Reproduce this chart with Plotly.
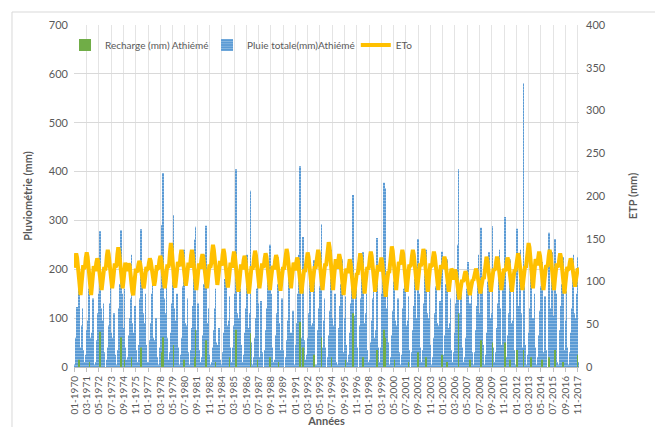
import plotly.graph_objects as go

years = list(range(1970, 2018))
months = [f"{m:02d}-{y}" for y in years for m in range(1, 13)]
tick_labels = months[::14]

# Monthly total rainfall (mm), one row per year (Jan..Dec)
rain_rows = [
    [5, 30, 60, 123, 110, 180, 95, 40, 85, 120, 35, 10],      # 1970
    [0, 25, 75, 95, 160, 210, 60, 20, 70, 140, 50, 5],        # 1971
    [10, 40, 55, 110, 150, 278, 120, 35, 95, 130, 30, 0],     # 1972
    [0, 15, 40, 85, 130, 190, 70, 15, 60, 110, 25, 5],        # 1973
    [5, 35, 90, 120, 170, 280, 150, 45, 80, 160, 40, 15],     # 1974
    [0, 20, 65, 100, 140, 230, 90, 30, 70, 125, 35, 0],       # 1975
    [10, 45, 80, 140, 282, 200, 110, 25, 90, 150, 45, 10],    # 1976
    [0, 10, 55, 90, 150, 175, 60, 20, 55, 100, 20, 0],        # 1977
    [5, 40, 95, 160, 290, 397, 140, 50, 110, 180, 60, 15],    # 1978
    [10, 30, 70, 130, 210, 311, 120, 40, 95, 150, 40, 5],     # 1979
    [0, 25, 60, 110, 165, 240, 90, 30, 85, 140, 30, 0],       # 1980
    [5, 35, 80, 125, 190, 261, 287, 45, 75, 130, 35, 10],     # 1981
    [0, 20, 65, 105, 170, 230, 289, 35, 90, 120, 25, 5],      # 1982
    [0, 10, 40, 75, 120, 160, 50, 10, 45, 80, 15, 0],         # 1983
    [5, 30, 70, 115, 180, 220, 85, 25, 95, 145, 40, 5],       # 1984
    [10, 40, 85, 150, 405, 240, 110, 40, 100, 160, 45, 10],   # 1985
    [0, 25, 70, 120, 190, 230, 80, 30, 110, 361, 50, 5],      # 1986
    [5, 20, 60, 100, 160, 210, 130, 20, 85, 135, 30, 0],      # 1987
    [0, 35, 75, 120, 175, 205, 100, 250, 95, 150, 40, 10],    # 1988
    [5, 15, 65, 110, 170, 225, 90, 35, 80, 140, 35, 0],       # 1989
    [0, 20, 55, 95, 145, 195, 70, 25, 70, 115, 25, 5],        # 1990
    [10, 45, 90, 150, 230, 411, 180, 60, 120, 266, 55, 15],   # 1991
    [0, 25, 60, 110, 175, 210, 85, 25, 90, 219, 35, 5],       # 1992
    [5, 30, 75, 120, 165, 230, 292, 40, 95, 140, 40, 0],      # 1993
    [0, 20, 65, 115, 180, 240, 100, 35, 85, 150, 30, 10],     # 1994
    [5, 35, 80, 125, 170, 220, 95, 30, 100, 145, 45, 5],      # 1995
    [10, 25, 70, 130, 200, 250, 352, 45, 105, 165, 40, 0],    # 1996
    [0, 30, 85, 140, 190, 235, 90, 30, 110, 150, 35, 10],     # 1997
    [5, 15, 50, 95, 140, 180, 60, 20, 75, 264, 40, 0],        # 1998
    [10, 40, 85, 150, 210, 377, 180, 366, 120, 170, 50, 5],   # 1999
    [0, 20, 65, 115, 175, 230, 95, 30, 85, 140, 30, 5],       # 2000
    [5, 25, 70, 120, 160, 215, 85, 25, 95, 145, 35, 0],       # 2001
    [0, 30, 75, 125, 180, 225, 100, 40, 262, 150, 40, 10],    # 2002
    [5, 35, 80, 130, 190, 240, 110, 35, 100, 160, 45, 5],     # 2003
    [0, 20, 60, 110, 165, 210, 90, 30, 85, 135, 45, 236],     # 2004
    [0, 25, 65, 115, 170, 220, 80, 25, 90, 140, 35, 5],       # 2005
    [10, 30, 70, 130, 200, 250, 405, 45, 110, 165, 40, 10],   # 2006
    [0, 20, 60, 105, 160, 215, 95, 130, 95, 150, 30, 0],      # 2007
    [5, 30, 75, 125, 185, 230, 110, 264, 285, 160, 45, 5],    # 2008
    [0, 25, 70, 120, 175, 235, 100, 35, 110, 288, 40, 10],    # 2009
    [5, 30, 80, 130, 190, 240, 120, 45, 115, 170, 150, 307],  # 2010
    [0, 20, 65, 110, 170, 220, 90, 30, 95, 155, 35, 5],       # 2011
    [10, 283, 75, 125, 180, 240, 110, 40, 581, 165, 45, 5],   # 2012
    [0, 25, 70, 120, 175, 230, 100, 35, 100, 150, 40, 5],     # 2013
    [5, 20, 65, 115, 165, 215, 95, 30, 90, 145, 35, 0],       # 2014
    [0, 275, 70, 120, 175, 235, 105, 40, 262, 150, 40, 10],   # 2015
    [5, 25, 75, 125, 170, 225, 100, 35, 95, 155, 40, 5],      # 2016
    [0, 30, 70, 120, 180, 230, 110, 40, 100, 150, 225, 10],   # 2017
]

# Monthly recharge (mm)
recharge_rows = [
    [0, 0, 0, 0, 0, 15, 0, 0, 0, 0, 0, 0],     # 1970
    [0, 0, 0, 0, 0, 10, 0, 0, 0, 0, 0, 0],     # 1971
    [0, 0, 0, 0, 0, 72, 0, 0, 0, 0, 0, 0],     # 1972
    [0, 0, 0, 0, 0, 0, 0, 0, 0, 0, 0, 0],      # 1973
    [0, 0, 0, 0, 0, 61, 0, 0, 0, 15, 0, 0],    # 1974
    [0, 0, 0, 0, 0, 20, 0, 0, 0, 0, 0, 0],     # 1975
    [0, 0, 0, 0, 40, 0, 0, 0, 0, 0, 0, 0],     # 1976
    [0, 0, 0, 0, 0, 0, 0, 0, 0, 0, 0, 0],      # 1977
    [0, 0, 0, 0, 30, 61, 0, 0, 0, 0, 0, 0],    # 1978
    [0, 0, 0, 0, 0, 45, 0, 0, 0, 0, 0, 0],     # 1979
    [0, 0, 0, 0, 0, 15, 0, 0, 0, 0, 0, 0],     # 1980
    [0, 0, 0, 0, 0, 20, 76, 0, 0, 0, 0, 0],    # 1981
    [0, 0, 0, 0, 0, 0, 55, 0, 0, 0, 0, 0],     # 1982
    [0, 0, 0, 0, 0, 10, 0, 0, 0, 0, 0, 0],     # 1983
    [0, 0, 0, 0, 0, 0, 0, 0, 0, 20, 0, 0],     # 1984
    [0, 0, 0, 0, 76, 0, 0, 0, 0, 0, 0, 0],     # 1985
    [0, 0, 0, 0, 0, 0, 0, 0, 0, 69, 0, 0],     # 1986
    [0, 0, 0, 0, 0, 15, 0, 0, 0, 0, 0, 0],     # 1987
    [0, 0, 0, 0, 0, 0, 0, 20, 0, 0, 0, 0],     # 1988
    [0, 0, 0, 0, 0, 10, 0, 0, 0, 0, 0, 0],     # 1989
    [0, 0, 0, 0, 0, 0, 0, 0, 0, 0, 0, 0],      # 1990
    [0, 0, 0, 0, 0, 92, 0, 0, 0, 40, 0, 0],    # 1991
    [0, 0, 0, 0, 0, 0, 0, 0, 0, 25, 0, 0],     # 1992
    [0, 0, 0, 0, 0, 0, 61, 0, 0, 0, 0, 0],     # 1993
    [0, 0, 0, 0, 0, 20, 0, 0, 0, 0, 0, 0],     # 1994
    [0, 0, 0, 0, 0, 0, 0, 0, 0, 15, 0, 0],     # 1995
    [0, 0, 0, 0, 0, 0, 110, 0, 0, 0, 0, 0],    # 1996
    [0, 0, 0, 0, 0, 20, 0, 0, 0, 0, 0, 0],     # 1997
    [0, 0, 0, 0, 0, 0, 0, 0, 0, 35, 0, 0],     # 1998
    [0, 0, 0, 0, 0, 76, 0, 60, 0, 0, 0, 0],    # 1999
    [0, 0, 0, 0, 0, 15, 0, 0, 0, 0, 0, 0],     # 2000
    [0, 0, 0, 0, 0, 0, 0, 0, 0, 10, 0, 0],     # 2001
    [0, 0, 0, 0, 0, 0, 0, 0, 30, 0, 0, 0],     # 2002
    [0, 0, 0, 0, 0, 20, 0, 0, 0, 0, 0, 0],     # 2003
    [0, 0, 0, 0, 0, 0, 0, 0, 0, 0, 0, 25],     # 2004
    [0, 0, 0, 0, 0, 10, 0, 0, 0, 0, 0, 0],     # 2005
    [0, 0, 0, 0, 0, 0, 110, 0, 0, 0, 0, 0],    # 2006
    [0, 0, 0, 0, 0, 0, 0, 15, 0, 0, 0, 0],     # 2007
    [0, 0, 0, 0, 0, 0, 0, 40, 55, 0, 0, 0],    # 2008
    [0, 0, 0, 0, 0, 0, 0, 0, 0, 50, 0, 0],     # 2009
    [0, 0, 0, 0, 0, 0, 0, 0, 0, 0, 0, 50],     # 2010
    [0, 0, 0, 0, 0, 15, 0, 0, 0, 0, 0, 0],     # 2011
    [0, 35, 0, 0, 0, 0, 0, 0, 35, 0, 0, 0],    # 2012
    [0, 0, 0, 0, 0, 20, 0, 0, 0, 0, 0, 0],     # 2013
    [0, 0, 0, 0, 0, 15, 0, 0, 0, 0, 0, 0],     # 2014
    [0, 20, 0, 0, 0, 0, 0, 0, 35, 0, 0, 0],    # 2015
    [0, 0, 0, 0, 0, 10, 0, 0, 0, 0, 0, 0],     # 2016
    [0, 0, 0, 0, 0, 0, 0, 0, 0, 0, 25, 0],     # 2017
]

# Monthly reference evapotranspiration ETo (mm), right axis
eto_rows = [
    [116, 127, 133, 128, 118, 100, 88, 84, 96, 113, 119, 115],   # 1970
    [117, 128, 134, 129, 117, 99, 87, 84, 95, 112, 118, 114],    # 1971
    [114, 122, 127, 124, 115, 101, 93, 90, 99, 112, 117, 113],   # 1972
    [118, 130, 137, 132, 121, 104, 95, 92, 100, 116, 121, 117],  # 1973
    [119, 132, 140, 134, 122, 104, 95, 92, 101, 117, 122, 118],  # 1974
    [112, 118, 121, 119, 112, 98, 88, 84, 94, 110, 115, 111],    # 1975
    [113, 120, 124, 121, 114, 101, 94, 92, 99, 112, 117, 114],   # 1976
    [115, 122, 127, 124, 116, 103, 97, 95, 101, 114, 119, 115],  # 1977
    [116, 125, 130, 126, 117, 102, 94, 92, 100, 115, 120, 116],  # 1978
    [120, 135, 145, 138, 124, 105, 96, 93, 102, 118, 123, 119],  # 1979
    [118, 130, 137, 132, 121, 105, 97, 95, 102, 117, 122, 118],  # 1980
    [118, 130, 137, 131, 120, 102, 93, 90, 99, 116, 121, 117],   # 1981
    [117, 127, 132, 128, 118, 102, 94, 92, 100, 115, 120, 116],  # 1982
    [121, 134, 143, 137, 125, 107, 98, 96, 104, 119, 124, 120],  # 1983
    [119, 131, 138, 133, 122, 105, 96, 93, 101, 117, 122, 118],  # 1984
    [118, 128, 135, 130, 119, 101, 91, 88, 98, 115, 120, 116],   # 1985
    [116, 125, 130, 126, 116, 99, 89, 86, 96, 113, 118, 114],    # 1986
    [118, 129, 136, 131, 120, 103, 94, 92, 100, 116, 121, 117],  # 1987
    [118, 127, 133, 129, 118, 103, 93, 90, 101, 114, 118, 116],  # 1988
    [116, 125, 131, 127, 116, 102, 92, 89, 100, 112, 117, 114],  # 1989
    [122, 131, 138, 133, 122, 106, 96, 92, 103, 117, 122, 119],  # 1990
    [113, 122, 128, 124, 113, 99, 89, 86, 97, 109, 114, 111],    # 1991
    [118, 127, 134, 129, 118, 102, 91, 88, 100, 113, 118, 115],  # 1992
    [120, 130, 137, 132, 120, 104, 94, 90, 102, 116, 121, 118],  # 1993
    [126, 138, 146, 140, 126, 107, 95, 90, 104, 121, 126, 123],  # 1994
    [115, 125, 132, 127, 115, 98, 88, 84, 96, 110, 115, 113],    # 1995
    [110, 119, 126, 121, 110, 94, 84, 80, 92, 105, 110, 108],    # 1996
    [116, 126, 133, 128, 116, 100, 90, 86, 98, 112, 117, 114],   # 1997
    [118, 128, 135, 130, 118, 102, 92, 88, 100, 114, 119, 116],  # 1998
    [112, 121, 128, 123, 112, 96, 86, 82, 94, 107, 112, 110],    # 1999
    [123, 133, 141, 136, 123, 105, 94, 90, 103, 118, 123, 121],  # 2000
    [120, 130, 137, 132, 120, 103, 92, 88, 100, 115, 120, 117],  # 2001
    [120, 130, 137, 132, 120, 104, 94, 90, 102, 116, 121, 118],  # 2002
    [121, 130, 138, 133, 121, 103, 92, 88, 100, 116, 121, 118],  # 2003
    [119, 128, 135, 130, 119, 103, 94, 90, 101, 115, 119, 117],  # 2004
    [115, 123, 129, 125, 115, 100, 91, 88, 98, 111, 115, 113],   # 2005
    [102, 109, 114, 111, 102, 90, 82, 79, 88, 98, 102, 100],     # 2006
    [102, 108, 112, 109, 102, 92, 86, 84, 91, 99, 102, 101],     # 2007
    [105, 111, 115, 112, 105, 95, 88, 86, 93, 102, 105, 103],    # 2008
    [115, 123, 129, 125, 115, 100, 91, 88, 98, 111, 115, 113],   # 2009
    [115, 123, 129, 125, 115, 102, 93, 90, 100, 111, 115, 113],  # 2010
    [114, 122, 128, 124, 114, 100, 91, 88, 98, 110, 114, 112],   # 2011
    [118, 127, 133, 129, 118, 103, 93, 90, 101, 114, 118, 116],  # 2012
    [126, 137, 145, 140, 126, 108, 96, 92, 105, 121, 126, 124],  # 2013
    [119, 128, 135, 130, 119, 103, 94, 90, 101, 115, 119, 117],  # 2014
    [120, 130, 137, 132, 120, 104, 94, 90, 102, 116, 121, 118],  # 2015
    [117, 126, 133, 128, 117, 100, 90, 86, 98, 112, 117, 114],   # 2016
    [115, 122, 127, 124, 115, 104, 97, 94, 102, 112, 115, 114],  # 2017
]

rain = [v for row in rain_rows for v in row]
recharge = [v for row in recharge_rows for v in row]
eto = [v for row in eto_rows for v in row]

FONT = "Lato"
GREY = "#595959"
LEG_FONT = dict(family=FONT, size=10, color=GREY)

fig = go.Figure()
fig.add_trace(go.Bar(x=months, y=rain, name="Pluie totale(mm)Athiémé",
                     marker=dict(color="#5B9BD5", line=dict(width=0),
                                 pattern=dict(shape="-", fgcolor="#DCE9F6", size=3, solidity=0.25)),
                     legend="legend2"))
fig.add_trace(go.Bar(x=months, y=recharge, name="Recharge (mm) Athiémé",
                     marker=dict(color="#70AD47", line=dict(width=0)),
                     legend="legend"))
fig.add_trace(go.Scatter(x=months, y=eto, name="ETo", mode="lines",
                         line=dict(color="#FFC000", width=4),
                         yaxis="y2", legend="legend3"))


def leg(xpos):
    return dict(orientation="h", x=xpos, y=0.9415, xanchor="left", yanchor="middle",
                font=LEG_FONT, bgcolor="rgba(0,0,0,0)", itemwidth=30)


# The page body has an 8px margin: the figure is drawn 8px right and down.
fig.update_layout(
    width=655, height=419,
    margin=dict(l=66, r=84, t=17, b=60, autoexpand=False),
    paper_bgcolor="white", plot_bgcolor="white",
    barmode="overlay", bargap=0.38,
    font=dict(family=FONT, size=11, color=GREY),
    showlegend=True,
    legend=leg(-0.0178),
    legend2=leg(0.2634),
    legend3=leg(0.558),
    xaxis=dict(
        type="category", tickmode="array", tickvals=tick_labels, ticktext=tick_labels,
        tickangle=-90, tickfont=dict(family=FONT, size=10, color=GREY),
        showgrid=True, gridcolor="#E4E4E4", gridwidth=1,
        showline=True, linecolor="#BFBFBF", linewidth=1,
        ticks="outside", ticklen=4, tickcolor="#BFBFBF",
        title=dict(text="<b>Années</b>", font=dict(family=FONT, size=11, color=GREY), standoff=5),
        range=[-0.5, len(months) - 0.5], automargin=False,
    ),
    yaxis=dict(
        range=[0, 700], dtick=100, showgrid=True, gridcolor="#D9D9D9", gridwidth=1,
        zeroline=False, showline=False, ticks="", automargin=False, ticklabelstandoff=5,
        tickfont=dict(family=FONT, size=11, color=GREY),
        title=dict(text="<b>Pluviométrie (mm)</b>", font=dict(family=FONT, size=11, color=GREY), standoff=14),
    ),
    yaxis2=dict(
        range=[0, 400], dtick=50, overlaying="y", side="right", showgrid=False,
        zeroline=False, showline=False, ticks="", automargin=False, ticklabelstandoff=6,
        tickfont=dict(family=FONT, size=11, color=GREY),
        title=dict(text="<b>ETP (mm)</b>", font=dict(family=FONT, size=11, color=GREY), standoff=24),
    ),
    shapes=[dict(type="rect", xref="paper", yref="paper",
                 x0=-0.1228, x1=1.1564, y0=-0.213, y1=1.038,
                 line=dict(color="#D9D9D9", width=1), fillcolor="rgba(0,0,0,0)", layer="below")],
)

fig.write_html("out.html")
